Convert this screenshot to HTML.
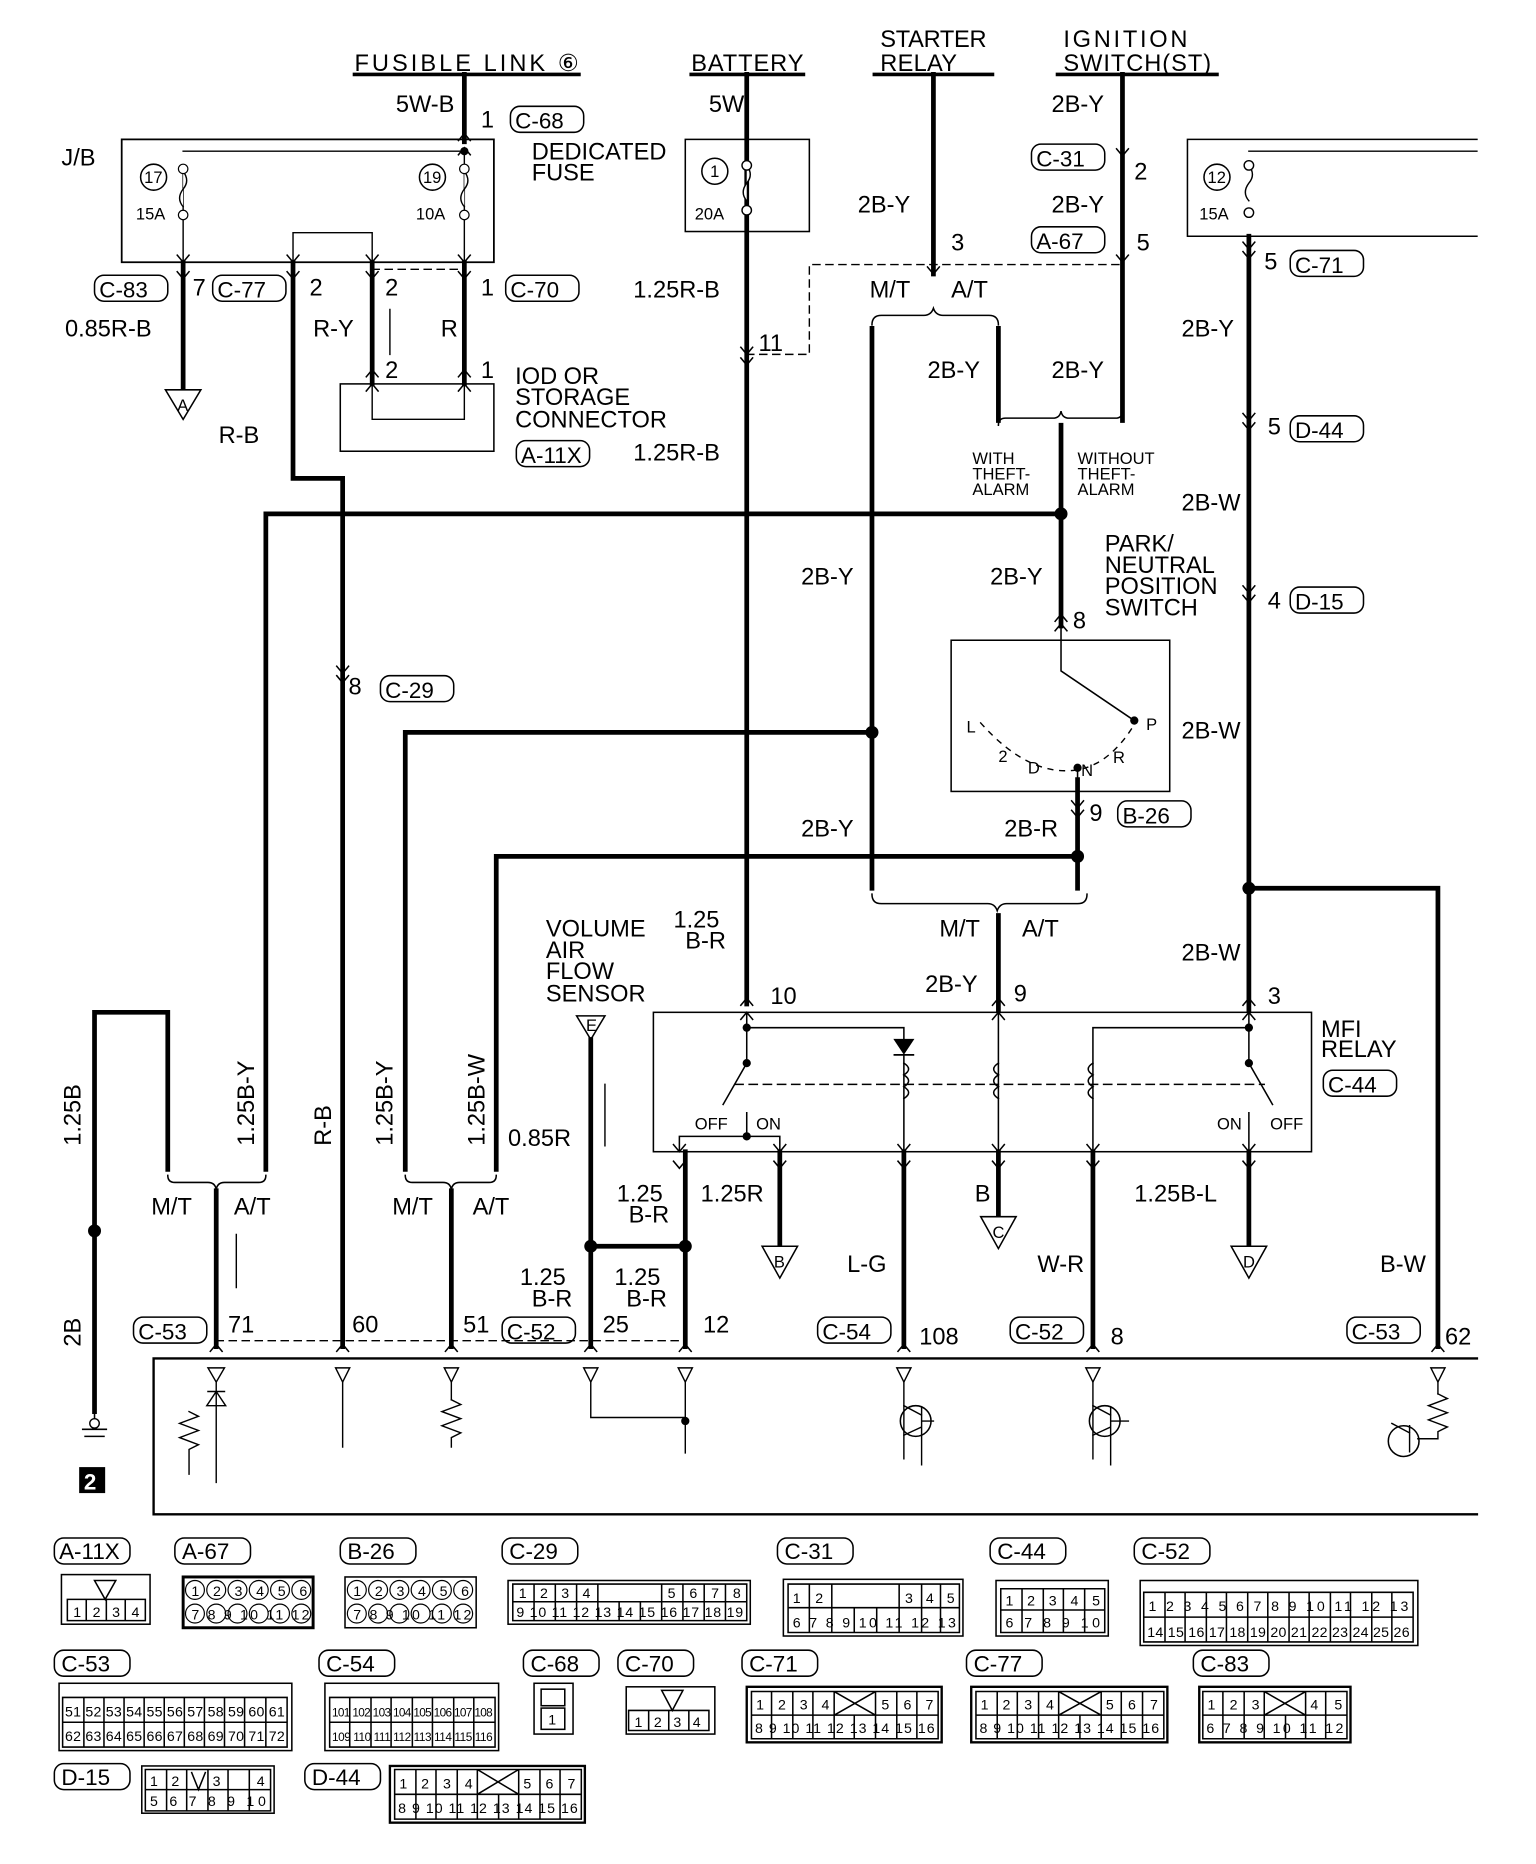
<!DOCTYPE html>
<html><head><meta charset="utf-8"><style>
html,body{margin:0;padding:0;background:#fff}
svg{display:block}
text{font-family:"Liberation Sans",sans-serif;fill:#000}
</style></head><body>
<svg width="1536" height="1864" viewBox="0 0 1300 1578" preserveAspectRatio="none" xmlns="http://www.w3.org/2000/svg">
<g stroke="#000" fill="none" stroke-linecap="square">
<!-- top source lines -->
<path d="M300 63H490M585 63H680M740 63H840M895 63H1030" stroke-width="3"/>
<path d="M393 63V120" stroke-width="4"/>
<rect x="103" y="118" width="315" height="104" stroke-width="1.5"/>
<path d="M155 128H393M155 140V185M393 128V185M155 185V222M393 185V222M248 222V197H315V222" stroke-width="1.2"/>
<circle cx="393" cy="128" r="3" fill="#000"/>
<circle cx="130" cy="150" r="11" stroke-width="1.3"/><circle cx="366" cy="150" r="11" stroke-width="1.3"/>
<path d="M155 145q6 8 0 15q-6 8 0 15M393 145q6 8 0 15q-6 8 0 15" stroke-width="1.2" fill="#fff"/>
<circle cx="155" cy="143" r="4" fill="#fff"/><circle cx="155" cy="182" r="4" fill="#fff"/>
<circle cx="393" cy="143" r="4" fill="#fff"/><circle cx="393" cy="182" r="4" fill="#fff"/>
<path d="M155 222V330M248 222V405H290V1140M315 222V325M393 222V325" stroke-width="4"/>
<path d="M315 228H393" stroke-width="1.2" stroke-dasharray="6 5"/>
<path d="M140 330H170L155 355Z" stroke-width="1.3" fill="#fff"/>
<rect x="288" y="325" width="130" height="57" stroke-width="1.3"/>
<path d="M315 325V355H393V325M330 300V262" stroke-width="1.2"/>
<!-- battery -->
<rect x="580" y="118" width="105" height="78" stroke-width="1.3"/>
<circle cx="605" cy="145" r="11" stroke-width="1.3"/>
<path d="M632 63V850" stroke-width="4"/>
<path d="M632 140q6 8 0 15q-6 8 0 15" stroke-width="1.2" fill="#fff"/>
<circle cx="632" cy="140" r="4" fill="#fff" stroke-width="1.2"/><circle cx="632" cy="178" r="4" fill="#fff" stroke-width="1.2"/>
<path d="M632 300H685V224H950" stroke-width="1.2" stroke-dasharray="6 5"/>
<!-- starter relay / ign -->
<path d="M790 63V232M950 63V356" stroke-width="4"/>
<path d="M738 278V752M845 278V356" stroke-width="4"/>
<path d="M738 275q0-8 8-8h36q6 0 8-6q2 6 8 6h39q8 0 8 8" stroke-width="1.3"/>
<path d="M845 360q0-6 6-6h40q6 0 7-6q1 6 7 6h39q6 0 6-6" stroke-width="1.3"/>
<path d="M898 360V530" stroke-width="4"/>
<path d="M225 435H898M225 435V990" stroke-width="4"/>
<circle cx="898" cy="435" r="5" fill="#000"/>
<!-- PNP -->
<rect x="805" y="542" width="185" height="128" stroke-width="1.3"/>
<path d="M912 660V752M420 725H912M420 725V990M343 620H738M343 620V990" stroke-width="4"/>
<path d="M830 612q40 45 80 40q30-4 52-42" stroke-width="1.2" stroke-dasharray="4 6"/>
<path d="M898 530V568L960 610M912 650V660" stroke-width="1.3"/>
<circle cx="960" cy="610" r="3" fill="#000"/><circle cx="912" cy="650" r="3" fill="#000"/>
<circle cx="738" cy="620" r="5" fill="#000"/><circle cx="912" cy="725" r="5" fill="#000"/>
<path d="M738 757q0 8 8 8h90q6 0 8 6q2-6 8-6h60q8 0 8-8" stroke-width="1.3"/>
<path d="M845 775V855" stroke-width="4"/>
<!-- right fuse -->
<path d="M1250 118H1005V200H1250" stroke-width="1.3"/>
<circle cx="1030" cy="150" r="11" stroke-width="1.3"/>
<path d="M1057 128H1250M1057 140q6 8 0 15q-6 8 0 15" stroke-width="1.2"/>
<circle cx="1057" cy="140" r="4" fill="#fff" stroke-width="1.2"/><circle cx="1057" cy="180" r="4" fill="#fff" stroke-width="1.2"/>
<path d="M1057 200V855M1057 752H1217V1140" stroke-width="4"/>
<circle cx="1057" cy="752" r="5" fill="#000"/>
<!-- MFI relay -->
<rect x="553" y="857" width="557" height="118" stroke-width="1.3"/>
<path d="M632 857V900L612 935M632 870H765V880M765 893V975M845 857V975M1057 857V900L1077 935M1057 870H925V975M575 975V962H660V975M632 942V962M1057 942V975" stroke-width="1.3"/>
<path d="M757 880H773L765 892Z" fill="#000" stroke-width="1"/><path d="M757 893H773" stroke-width="1.5"/>
<path d="M765 900q8 5 0 10q8 5 0 10q8 5 0 10M845 900q-8 5 0 10q-8 5 0 10q-8 5 0 10M925 900q-8 5 0 10q-8 5 0 10q-8 5 0 10" stroke-width="1.3"/>
<path d="M622 918H1070" stroke-width="1.2" stroke-dasharray="7 5"/>
<circle cx="632" cy="900" r="3" fill="#000"/><circle cx="1057" cy="900" r="3" fill="#000"/><circle cx="632" cy="870" r="3" fill="#000"/><circle cx="1057" cy="870" r="3" fill="#000"/><circle cx="632" cy="962" r="3" fill="#000"/>
<path d="M580 975V1140M660 975V1055M765 975V1140M845 975V1030M925 975V1140M1057 975V1055" stroke-width="4"/>
<path d="M645 1055H675L660 1082ZM830 1030H860L845 1057ZM1042 1055H1072L1057 1082Z" stroke-width="1.3" fill="#fff"/>
<!-- VAF -->
<path d="M488 860H512L500 880Z" stroke-width="1.3" fill="#fff"/>
<path d="M500 880V1140M500 1055H580" stroke-width="4"/>
<circle cx="500" cy="1055" r="5" fill="#000"/><circle cx="580" cy="1055" r="5" fill="#000"/>
<path d="M512 970V918M200 1090V1045" stroke-width="1.2"/>
<!-- left ground wire -->
<path d="M80 1195V857H142V990" stroke-width="4"/>
<circle cx="80" cy="1042" r="5" fill="#000"/>
<path d="M80 1195V1205M70 1210H90M72 1216H88" stroke-width="1.3"/>
<circle cx="80" cy="1205" r="4" fill="#fff" stroke-width="1.2"/>
<path d="M142 995q0 6 6 6h28q6 0 7 6q1-6 7-6h29q6 0 6-6M343 995q0 6 6 6h26q6 0 7 6q1-6 7-6h25q6 0 6-6" stroke-width="1.3"/>
<path d="M183 1008V1140M382 1008V1140" stroke-width="4"/>
<path d="M183 1135H580" stroke-width="1.2" stroke-dasharray="6 5"/>
<!-- chevrons -->
<path stroke-width="1.3" d="
M150 216L155 222L160 216M150 230L155 236L160 230
M243 216L248 222L253 216M243 230L248 236L253 230
M310 216L315 222L320 216M310 230L315 236L320 230
M388 216L393 222L398 216M388 230L393 236L398 230
M388 131L393 125L398 131M388 119L393 113L398 119
M310 331L315 325L320 331M310 319L315 313L320 319
M388 331L393 325L398 331M388 319L393 313L398 319
M627 294L632 300L637 294M627 303L632 309L637 303
M785 226L790 232L795 226
M945 126L950 132L955 126M945 216L950 222L955 216
M1052 205L1057 211L1062 205M1052 213L1057 219L1062 213
M1052 350L1057 356L1062 350M1052 358L1057 364L1062 358
M1052 496L1057 502L1062 496M1052 504L1057 510L1062 504
M893 526L898 520L903 526M893 534L898 528L903 534
M907 678L912 684L917 678M907 686L912 692L917 686
M285 564L290 570L295 564M285 572L290 578L295 572
M627 851L632 845L637 851M627 863L632 857L637 863
M840 851L845 845L850 851M840 863L845 857L850 863
M1052 851L1057 845L1062 851M1052 863L1057 857L1062 863
M570 969L575 975L580 969M570 983L575 989L580 983
M655 969L660 975L665 969M655 983L660 989L665 983
M760 969L765 975L770 969M760 983L765 989L770 983
M840 969L845 975L850 969M840 983L845 989L850 983
M920 969L925 975L930 969M920 983L925 989L930 983
M1052 969L1057 975L1062 969M1052 983L1057 989L1062 983
M178 1144L183 1138L188 1144M285 1144L290 1138L295 1144M377 1144L382 1138L387 1144M495 1144L500 1138L505 1144M575 1144L580 1138L585 1144M760 1144L765 1138L770 1144M920 1144L925 1138L930 1144M1212 1144L1217 1138L1222 1144"/>
<!-- ECU -->
<path d="M130 1150H1250M130 1150V1282H1250" stroke-width="2"/>
<path d="M176 1158H190L183 1170ZM284 1158H296L290 1170ZM376 1158H388L382 1170ZM494 1158H506L500 1170ZM574 1158H586L580 1170ZM759 1158H771L765 1170ZM919 1158H931L925 1170ZM1211 1158H1223L1217 1170Z" stroke-width="1.2"/>
<path d="M183 1170V1255M290 1170V1225M382 1170V1185M500 1170V1200H580V1230M580 1170V1230M765 1170V1235M925 1170V1235M1217 1170V1180" stroke-width="1.2"/>
<path d="M382 1185l8 4-16 6 16 6-16 6 16 6-8 4V1225M1217 1180l8 4-16 6 16 6-16 6 16 6-8 4V1218H1200" stroke-width="1.2"/>
<path d="M160 1195l8 4-16 6 16 6-16 6 16 6-8 4V1248M175 1190H191L183 1178ZM176 1178H190" stroke-width="1.2"/>
<circle cx="580" cy="1203" r="3" fill="#000"/>
<circle cx="775" cy="1203" r="13" stroke-width="1.3"/><circle cx="935" cy="1203" r="13" stroke-width="1.3"/><circle cx="1188" cy="1220" r="13" stroke-width="1.3"/>
<path d="M765 1190L780 1198M780 1192V1214M780 1203H790M765 1215L780 1208V1240M925 1190L940 1198M940 1192V1214M940 1203H955M925 1215L940 1208V1240M1178 1205L1193 1213M1193 1207V1229" stroke-width="1.2"/>
</g>
<!-- texts -->
<g font-size="20">
<text x="300" y="60" textLength="190">FUSIBLE LINK ⑥</text>
<text x="585" y="60" textLength="95">BATTERY</text>
<text x="745" y="40" textLength="90">STARTER</text><text x="745" y="60" textLength="65">RELAY</text>
<text x="900" y="40" textLength="105">IGNITION</text><text x="900" y="60" textLength="125">SWITCH(ST)</text>
<text x="335" y="95">5W-B</text><text x="407" y="108">1</text>
<text x="600" y="95">5W</text>
<text x="890" y="95">2B-Y</text><text x="960" y="152">2</text><text x="890" y="180">2B-Y</text><text x="962" y="212">5</text>
<text x="726" y="180">2B-Y</text><text x="805" y="212">3</text>
<text x="450" y="135">DEDICATED</text><text x="450" y="153">FUSE</text>
<text x="52" y="140">J/B</text>
<text x="163" y="250">7</text><text x="262" y="250">2</text><text x="326" y="250">2</text><text x="407" y="250">1</text>
<text x="55" y="285">0.85R-B</text><text x="265" y="285">R-Y</text><text x="373" y="285">R</text>
<text x="326" y="320">2</text><text x="407" y="320">1</text>
<text x="436" y="325">IOD OR</text><text x="436" y="343">STORAGE</text><text x="436" y="362">CONNECTOR</text>
<text x="185" y="375">R-B</text>
<text x="536" y="252">1.25R-B</text><text x="536" y="390">1.25R-B</text><text x="642" y="297">11</text>
<text x="736" y="252">M/T</text><text x="805" y="252">A/T</text>
<text x="785" y="320">2B-Y</text><text x="890" y="320">2B-Y</text>
<text x="678" y="495">2B-Y</text><text x="838" y="495">2B-Y</text><text x="908" y="532">8</text>
<text x="935" y="467">PARK/</text><text x="935" y="485">NEUTRAL</text><text x="935" y="503">POSITION</text><text x="935" y="521">SWITCH</text>
<text x="678" y="708">2B-Y</text><text x="850" y="708">2B-R</text><text x="922" y="695">9</text>
<text x="795" y="793">M/T</text><text x="865" y="793">A/T</text>
<text x="783" y="840">2B-Y</text><text x="858" y="848">9</text><text x="652" y="850">10</text>
<text x="570" y="785">1.25</text><text x="580" y="803">B-R</text>
<text x="462" y="793">VOLUME</text><text x="462" y="811">AIR</text><text x="462" y="829">FLOW</text><text x="462" y="848">SENSOR</text>
<text x="1070" y="228">5</text><text x="1000" y="285">2B-Y</text><text x="1073" y="368">5</text>
<text x="1000" y="432">2B-W</text><text x="1073" y="515">4</text><text x="1000" y="625">2B-W</text><text x="1000" y="813">2B-W</text><text x="1073" y="850">3</text>
<text x="1118" y="878">MFI</text><text x="1118" y="895">RELAY</text>
<text x="430" y="970">0.85R</text>
<text x="522" y="1017">1.25</text><text x="532" y="1035">B-R</text><text x="593" y="1017">1.25R</text>
<text x="440" y="1088">1.25</text><text x="450" y="1106">B-R</text><text x="520" y="1088">1.25</text><text x="530" y="1106">B-R</text>
<text x="825" y="1017">B</text><text x="960" y="1017">1.25B-L</text>
<text x="717" y="1077">L-G</text><text x="878" y="1077">W-R</text><text x="1168" y="1077">B-W</text>
<text x="128" y="1028">M/T</text><text x="198" y="1028">A/T</text><text x="332" y="1028">M/T</text><text x="400" y="1028">A/T</text>
<text x="193" y="1128">71</text><text x="298" y="1128">60</text><text x="392" y="1128">51</text><text x="510" y="1128">25</text><text x="595" y="1128">12</text>
<text x="778" y="1138">108</text><text x="940" y="1138">8</text><text x="1223" y="1138">62</text>
<text transform="translate(68 970) rotate(-90)">1.25B</text>
<text transform="translate(68 1140) rotate(-90)">2B</text>
<text transform="translate(215 970) rotate(-90)">1.25B-Y</text>
<text transform="translate(280 970) rotate(-90)">R-B</text>
<text transform="translate(332 970) rotate(-90)">1.25B-Y</text>
<text transform="translate(410 970) rotate(-90)">1.25B-W</text>
<text x="295" y="588">8</text>
</g>
<g font-size="14">
<text x="122" y="155">17</text><text x="358" y="155">19</text><text x="601" y="150">1</text><text x="1022" y="155">12</text>
<text x="115" y="186">15A</text><text x="352" y="186">10A</text><text x="588" y="186">20A</text><text x="1015" y="186">15A</text>
<text x="150" y="348">A</text><text x="655" y="1073">B</text><text x="840" y="1048">C</text><text x="1052" y="1073">D</text><text x="496" y="873">E</text>
<text x="823" y="393">WITH</text><text x="823" y="406">THEFT-</text><text x="823" y="419">ALARM</text>
<text x="912" y="393">WITHOUT</text><text x="912" y="406">THEFT-</text><text x="912" y="419">ALARM</text>
<text x="818" y="620">L</text><text x="845" y="645">2</text><text x="870" y="655">D</text><text x="915" y="657">N</text><text x="942" y="646">R</text><text x="970" y="618">P</text>
<text x="588" y="956">OFF</text><text x="640" y="956">ON</text><text x="1030" y="956">ON</text><text x="1075" y="956">OFF</text>
</g>
<rect x="67" y="1242" width="22" height="22" fill="#000"/><text x="71" y="1261" font-size="19" font-weight="bold" style="fill:#fff">2</text>
<g font-size="19" stroke="#000" fill="none" stroke-width="1.3">
<rect x="432" y="90" width="62" height="22" rx="8"/><rect x="80" y="233" width="62" height="22" rx="8"/><rect x="180" y="233" width="62" height="22" rx="8"/><rect x="428" y="233" width="62" height="22" rx="8"/>
<rect x="437" y="373" width="62" height="22" rx="8"/><rect x="873" y="122" width="62" height="22" rx="8"/><rect x="873" y="192" width="62" height="22" rx="8"/>
<rect x="1092" y="212" width="62" height="22" rx="8"/><rect x="1092" y="352" width="62" height="22" rx="8"/><rect x="1092" y="497" width="62" height="22" rx="8"/>
<rect x="946" y="678" width="62" height="22" rx="8"/><rect x="322" y="572" width="62" height="22" rx="8"/><rect x="1120" y="906" width="62" height="22" rx="8"/>
<rect x="113" y="1115" width="62" height="22" rx="8"/><rect x="425" y="1115" width="62" height="22" rx="8"/><rect x="692" y="1115" width="62" height="22" rx="8"/><rect x="855" y="1115" width="62" height="22" rx="8"/><rect x="1140" y="1115" width="62" height="22" rx="8"/>
</g>
<g font-size="19">
<text x="436" y="109">C-68</text><text x="84" y="252">C-83</text><text x="184" y="252">C-77</text><text x="432" y="252">C-70</text>
<text x="441" y="392">A-11X</text><text x="877" y="141">C-31</text><text x="877" y="211">A-67</text>
<text x="1096" y="231">C-71</text><text x="1096" y="371">D-44</text><text x="1096" y="516">D-15</text>
<text x="950" y="697">B-26</text><text x="326" y="591">C-29</text><text x="1124" y="925">C-44</text>
<text x="117" y="1134">C-53</text><text x="429" y="1134">C-52</text><text x="696" y="1134">C-54</text><text x="859" y="1134">C-52</text><text x="1144" y="1134">C-53</text>
</g>
<g stroke="#000" fill="none" stroke-width="1.3">
<rect x="46" y="1302" width="64" height="22" rx="8"/><rect x="148" y="1302" width="64" height="22" rx="8"/><rect x="288" y="1302" width="64" height="22" rx="8"/><rect x="425" y="1302" width="64" height="22" rx="8"/>
<rect x="658" y="1302" width="64" height="22" rx="8"/><rect x="838" y="1302" width="64" height="22" rx="8"/><rect x="960" y="1302" width="64" height="22" rx="8"/>
<rect x="46" y="1397" width="64" height="22" rx="8"/><rect x="270" y="1397" width="64" height="22" rx="8"/><rect x="443" y="1397" width="64" height="22" rx="8"/><rect x="523" y="1397" width="64" height="22" rx="8"/>
<rect x="628" y="1397" width="64" height="22" rx="8"/><rect x="818" y="1397" width="64" height="22" rx="8"/><rect x="1010" y="1397" width="64" height="22" rx="8"/>
<rect x="46" y="1493" width="64" height="22" rx="8"/><rect x="258" y="1493" width="64" height="22" rx="8"/>
<rect x="52" y="1333" width="75" height="42"/><rect x="155" y="1335" width="110" height="43" stroke-width="2.5"/><rect x="292" y="1335" width="111" height="43"/>
<rect x="430" y="1338" width="205" height="37"/><rect x="663" y="1337" width="152" height="48"/><rect x="843" y="1338" width="95" height="47"/><rect x="965" y="1338" width="235" height="55"/>
<rect x="50" y="1425" width="197" height="57"/><rect x="275" y="1425" width="147" height="57"/><rect x="452" y="1425" width="33" height="43"/><rect x="530" y="1428" width="75" height="40"/>
<rect x="632" y="1428" width="165" height="47" stroke-width="2"/><rect x="822" y="1428" width="166" height="47" stroke-width="2"/><rect x="1015" y="1428" width="128" height="47" stroke-width="2"/>
<rect x="120" y="1495" width="112" height="40"/><rect x="330" y="1495" width="165" height="48" stroke-width="2"/>
<path d="M57 1354H123V1372H57ZM73 1354V1372M90 1354V1372M106 1354V1372M80 1338H98L89 1354Z"/>
<path d="M532 1448H600V1465H532ZM549 1448V1465M566 1448V1465M583 1448V1465M560 1431H578L569 1448Z"/>
<path d="M434 1341H632V1372H434ZM434 1356H632M452 1341V1372M470 1341V1372M488 1341V1372M506 1341V1372M524 1356V1372M542 1356V1372M560 1341V1372M578 1341V1372M596 1341V1372M614 1341V1372"/>
<path d="M667 1341H812V1382H667ZM667 1361H812M685 1361V1382M704 1361V1382M723 1361V1382M742 1361V1382M761 1341V1382M780 1341V1382M796 1341V1382M685 1341V1361M704 1341V1361"/>
<path d="M847 1345H935V1382H847ZM847 1363H935M865 1345V1382M883 1345V1382M900 1345V1382M918 1345V1382"/>
<path d="M968 1348H1196V1390H968ZM968 1369H1196M986 1348V1390M1003 1348V1390M1021 1348V1390M1038 1348V1390M1056 1348V1390M1073 1348V1390M1091 1348V1390M1108 1348V1390M1126 1348V1390M1143 1348V1390M1161 1348V1390M1178 1348V1390"/>
<path d="M53 1437H243V1479H53ZM53 1458H243M71 1437V1479M88 1437V1479M105 1437V1479M122 1437V1479M139 1437V1479M156 1437V1479M173 1437V1479M190 1437V1479M207 1437V1479M225 1437V1479"/>
<path d="M279 1437H419V1479H279ZM279 1458H419M296 1437V1479M314 1437V1479M331 1437V1479M349 1437V1479M366 1437V1479M384 1437V1479M401 1437V1479"/>
<path d="M636 1432H794V1472H636ZM636 1452H794M653 1432V1472M671 1432V1472M688 1432V1472M706 1432V1472M741 1432V1472M759 1432V1472M776 1432V1472M723 1452V1472M706 1432L741 1452M741 1432L706 1452"/>
<path d="M826 1432H985V1472H826ZM826 1452H985M844 1432V1472M861 1432V1472M879 1432V1472M896 1432V1472M932 1432V1472M949 1432V1472M967 1432V1472M914 1452V1472M896 1432L932 1452M932 1432L896 1452"/>
<path d="M1018 1432H1140V1472H1018ZM1018 1452H1140M1035 1432V1472M1053 1432V1472M1070 1432V1472M1105 1432V1472M1122 1432V1472M1088 1452V1472M1070 1432L1105 1452M1105 1432L1070 1452"/>
<path d="M123 1498H229V1533H123ZM123 1515H229M141 1498V1533M158 1498V1533M176 1498V1533M193 1498V1533M211 1498V1533M162 1500L168 1515L174 1500"/>
<path d="M334 1498H492V1540H334ZM334 1519H492M352 1498V1540M369 1498V1540M387 1498V1540M404 1498V1540M439 1498V1540M457 1498V1540M474 1498V1540M422 1519V1540M404 1498L439 1519M439 1498L404 1519"/>
<rect x="458" y="1430" width="20" height="14"/><rect x="458" y="1446" width="20" height="18"/>
</g>
<g fill="none" stroke="#000" stroke-width="1">
<circle cx="165" cy="1346" r="8"/><circle cx="183" cy="1346" r="8"/><circle cx="201" cy="1346" r="8"/><circle cx="219" cy="1346" r="8"/><circle cx="237" cy="1346" r="8"/><circle cx="255" cy="1346" r="8"/>
<circle cx="165" cy="1366" r="8"/><circle cx="183" cy="1366" r="8"/><circle cx="201" cy="1366" r="8"/><circle cx="219" cy="1366" r="8"/><circle cx="237" cy="1366" r="8"/><circle cx="255" cy="1366" r="8"/>
<circle cx="302" cy="1346" r="8"/><circle cx="320" cy="1346" r="8"/><circle cx="338" cy="1346" r="8"/><circle cx="356" cy="1346" r="8"/><circle cx="374" cy="1346" r="8"/><circle cx="392" cy="1346" r="8"/>
<circle cx="302" cy="1366" r="8"/><circle cx="320" cy="1366" r="8"/><circle cx="338" cy="1366" r="8"/><circle cx="356" cy="1366" r="8"/><circle cx="374" cy="1366" r="8"/><circle cx="392" cy="1366" r="8"/>
</g>
<g font-size="19">
<text x="50" y="1320">A-11X</text><text x="154" y="1320">A-67</text><text x="294" y="1320">B-26</text><text x="431" y="1320">C-29</text>
<text x="664" y="1320">C-31</text><text x="844" y="1320">C-44</text><text x="966" y="1320">C-52</text>
<text x="52" y="1415">C-53</text><text x="276" y="1415">C-54</text><text x="449" y="1415">C-68</text><text x="529" y="1415">C-70</text>
<text x="634" y="1415">C-71</text><text x="824" y="1415">C-77</text><text x="1016" y="1415">C-83</text>
<text x="52" y="1511">D-15</text><text x="264" y="1511">D-44</text>
</g>
<g font-size="12">
<text x="62" y="1369" textLength="56" lengthAdjust="spacing">1 2 3 4</text>
<text x="537" y="1462" textLength="56" lengthAdjust="spacing">1 2 3 4</text>
<text x="162" y="1351" textLength="98" lengthAdjust="spacing">1 2 3 4 5 6</text><text x="162" y="1371" textLength="100" lengthAdjust="spacing">7 8 9 10 11 12</text>
<text x="299" y="1351" textLength="98" lengthAdjust="spacing">1 2 3 4 5 6</text><text x="299" y="1371" textLength="100" lengthAdjust="spacing">7 8 9 10 11 12</text>
<text x="439" y="1353">1</text><text x="457" y="1353">2</text><text x="475" y="1353">3</text><text x="493" y="1353">4</text><text x="565" y="1353" textLength="62" lengthAdjust="spacing">5 6 7 8</text>
<text x="437" y="1369" textLength="192" lengthAdjust="spacing">9 10 11 12 13 14 15 16 17 18 19</text>
<text x="671" y="1357">1</text><text x="690" y="1357">2</text><text x="766" y="1357" textLength="42" lengthAdjust="spacing">3 4 5</text>
<text x="671" y="1378" textLength="138" lengthAdjust="spacing">6 7 8 9 10 11 12 13</text>
<text x="851" y="1359" textLength="80" lengthAdjust="spacing">1 2 3 4 5</text><text x="851" y="1378" textLength="80" lengthAdjust="spacing">6 7 8 9 10</text>
<text x="972" y="1364" textLength="220" lengthAdjust="spacing">1 2 3 4 5 6 7 8 9 10 11 12 13</text>
<text x="971" y="1386" textLength="222" lengthAdjust="spacing">14 15 16 17 18 19 20 21 22 23 24 25 26</text>
<text x="55" y="1453" textLength="186" lengthAdjust="spacing">51 52 53 54 55 56 57 58 59 60 61</text>
<text x="55" y="1474" textLength="186" lengthAdjust="spacing">62 63 64 65 66 67 68 69 70 71 72</text>
<text x="281" y="1453" font-size="10" textLength="136" lengthAdjust="spacing">101 102 103 104 105 106 107 108</text>
<text x="281" y="1474" font-size="10" textLength="136" lengthAdjust="spacing">109 110 111 112 113 114 115 116</text>
<text x="464" y="1460">1</text>
<text x="640" y="1447" textLength="62" lengthAdjust="spacing">1 2 3 4</text><text x="746" y="1447" textLength="44" lengthAdjust="spacing">5 6 7</text>
<text x="639" y="1467" textLength="152" lengthAdjust="spacing">8 9 10 11 12 13 14 15 16</text>
<text x="830" y="1447" textLength="62" lengthAdjust="spacing">1 2 3 4</text><text x="936" y="1447" textLength="44" lengthAdjust="spacing">5 6 7</text>
<text x="829" y="1467" textLength="152" lengthAdjust="spacing">8 9 10 11 12 13 14 15 16</text>
<text x="1022" y="1447" textLength="44" lengthAdjust="spacing">1 2 3</text><text x="1109" y="1447" textLength="27" lengthAdjust="spacing">4 5</text>
<text x="1021" y="1467" textLength="116" lengthAdjust="spacing">6 7 8 9 10 11 12</text>
<text x="127" y="1512">1</text><text x="145" y="1512">2</text><text x="180" y="1512" textLength="44" lengthAdjust="spacing">3 4</text>
<text x="127" y="1529" textLength="98" lengthAdjust="spacing">5 6 7 8 9 10</text>
<text x="338" y="1514" textLength="62" lengthAdjust="spacing">1 2 3 4</text><text x="443" y="1514" textLength="44" lengthAdjust="spacing">5 6 7</text>
<text x="337" y="1535" textLength="152" lengthAdjust="spacing">8 9 10 11 12 13 14 15 16</text>
</g>
</svg>
</body></html>
